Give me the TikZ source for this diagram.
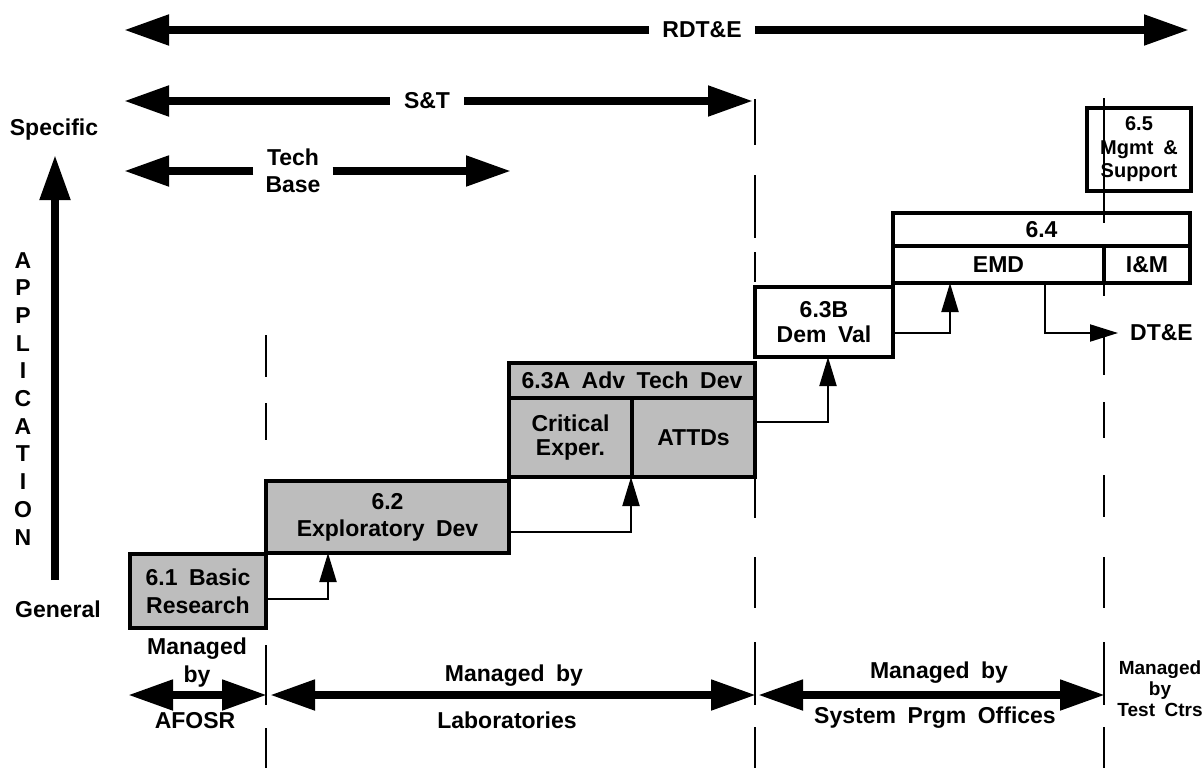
\documentclass[tikz,border=0pt]{standalone}
\usepackage{fontspec}
\setmainfont{Liberation Sans}[WordSpace=1.8]
\usetikzlibrary{arrows.meta}
\definecolor{shade}{gray}{0.74}
\begin{document}
\begin{tikzpicture}[x=1pt,y=-1pt,
  every node/.style={font=\bfseries\fontsize{23}{28}\selectfont, inner sep=0pt, align=center},
  bigarrow/.style={line width=8pt, -{Triangle[length=45pt,width=29pt]}},
  bigdouble/.style={line width=8pt, {Triangle[length=45pt,width=29pt]}-{Triangle[length=45pt,width=29pt]}},
  conn/.style={line width=2pt, -{Triangle[length=29pt,width=17pt]}},
  guide/.style={line width=2pt},
  box/.style={draw, line width=3.5pt, inner sep=0pt, outer sep=0pt, anchor=north west, align=center, fill=white},
  grey/.style={fill=shade},
]
\useasboundingbox (0,0) rectangle (1204,768);

% ---- boxes ----
\node[box, grey, minimum width=136pt, minimum height=74pt] (b61) at (130,554) {6.1 Basic\\Research};
\node[box, grey, minimum width=243pt, minimum height=72pt, font=\bfseries\fontsize{23}{27}\selectfont] (b62) at (266,481) {6.2\\Exploratory Dev};
\node[box, grey, minimum width=246pt, minimum height=35pt] (b63h) at (509,363) {6.3A Adv Tech Dev};
\node[box, grey, minimum width=123pt, minimum height=79pt, font=\bfseries\fontsize{23}{24}\selectfont] (crit) at (509,398) {Critical\\Exper.};
\node[box, grey, minimum width=123pt, minimum height=79pt] (attd) at (632,398) {ATTDs};
\node[box, minimum width=138pt, minimum height=70pt, font=\bfseries\fontsize{23}{25}\selectfont] (b63b) at (755,287) {6.3B\\Dem Val};
\node[box, minimum width=297pt, minimum height=33pt] (b64) at (893,213) {6.4};
\node[box, minimum width=211pt, minimum height=37pt] (emd) at (893,246) {EMD};
\node[box, minimum width=86pt, minimum height=37pt] (im) at (1104,246) {I\&M};
\node[box, minimum width=104pt, minimum height=83pt, font=\bfseries\fontsize{20}{23.5}\selectfont] (b65) at (1087,108) {6.5\\Mgmt \&\\Support};

% ---- guide (dashed) lines ----
\foreach \a/\b in {335/377,403/440,645/705,728/768}
  \draw[guide] (266,\a) -- (266,\b);
\foreach \a/\b in {99/145,175/238,252/282,477/518,557/608,642/705,727/768}
  \draw[guide] (755,\a) -- (755,\b);
\foreach \a/\b in {98/223,246/296,335/375,402/438,475/517,557/608,642/705,727/768}
  \draw[guide] (1104,\a) -- (1104,\b);

% ---- top arrows ----
\node[inner xsep=13pt] (rdte) at (702,30) {RDT\&E};
\coordinate (rdL) at (124,30);
\coordinate (rdR) at (1189,30);
\draw[bigarrow] (rdte.west) -- (rdL);
\draw[bigarrow] (rdte.east) -- (rdR);

\node[inner xsep=14pt] (snt) at (427,101) {S\&T};
\coordinate (stL) at (124,101);
\coordinate (stR) at (753,101);
\draw[bigarrow] (snt.west) -- (stL);
\draw[bigarrow] (snt.east) -- (stR);

\node[inner xsep=12pt, font=\bfseries\fontsize{23}{27}\selectfont] (tb) at (293,171) {Tech\\Base};
\coordinate (tbL) at (124,171);
\coordinate (tbR) at (511,171);
\draw[bigarrow] (tb.west) -- (tbL);
\draw[bigarrow] (tb.east) -- (tbR);

% ---- application axis ----
\node[anchor=base] (spec) at (54,135) {Specific};
\node[anchor=base] (gen) at (58,617) {General};
\coordinate (vB) at (55,580);
\coordinate (vT) at (55,155);
\draw[bigarrow] (vB) -- (vT);
\foreach \l [count=\i from 0] in {A,P,P,L,I,C,A,T,I,O,N}
  \node[anchor=base] (app\i) at (23,{268+27.7*\i}) {\l};

% ---- connectors between boxes ----
\coordinate (c1) at (328,599);
\draw[conn] (b61.east |- c1) -- (c1) -- (c1 |- b62.south);
\coordinate (c2) at (631,532);
\draw[conn] (b62.east |- c2) -- (c2) -- (c2 |- crit.south);
\coordinate (c3) at (828,422);
\draw[conn] (attd.east |- c3) -- (c3) -- (c3 |- b63b.south);
\coordinate (c4) at (950,333);
\draw[conn] (b63b.east |- c4) -- (c4) -- (c4 |- emd.south);
\node[anchor=west, inner xsep=12pt] (dte) at (1118,333) {DT\&E};
\coordinate (c5) at (1045,333);
\draw[conn, -{Triangle[length=28pt,width=17pt]}] (c5 |- emd.south) -- (c5) -- (dte.west);

% ---- management arrows ----
\coordinate (afL) at (128,695);
\coordinate (afR) at (267,695);
\draw[bigdouble] (afL) -- (afR);
\coordinate (labL) at (270,695);
\coordinate (labR) at (756,695);
\draw[bigdouble] (labL) -- (labR);
\coordinate (spoL) at (758,695);
\coordinate (spoR) at (1105,695);
\draw[bigdouble] (spoL) -- (spoR);

\node (mAF) at (197,663) {Managed\\by};
\node[anchor=base] (afosr) at (195,728) {AFOSR};
\node[anchor=base] (mLab) at (514,681) {Managed by};
\node[anchor=base] (lab) at (507,728) {Laboratories};
\node[anchor=base] (mSPO) at (939,678) {Managed by};
\node[anchor=base] (spo) at (935,723) {System Prgm Offices};
\node[font=\bfseries\fontsize{19}{21}\selectfont] (mTC) at (1160,689) {Managed\\by\\Test Ctrs};
\end{tikzpicture}
\end{document}
